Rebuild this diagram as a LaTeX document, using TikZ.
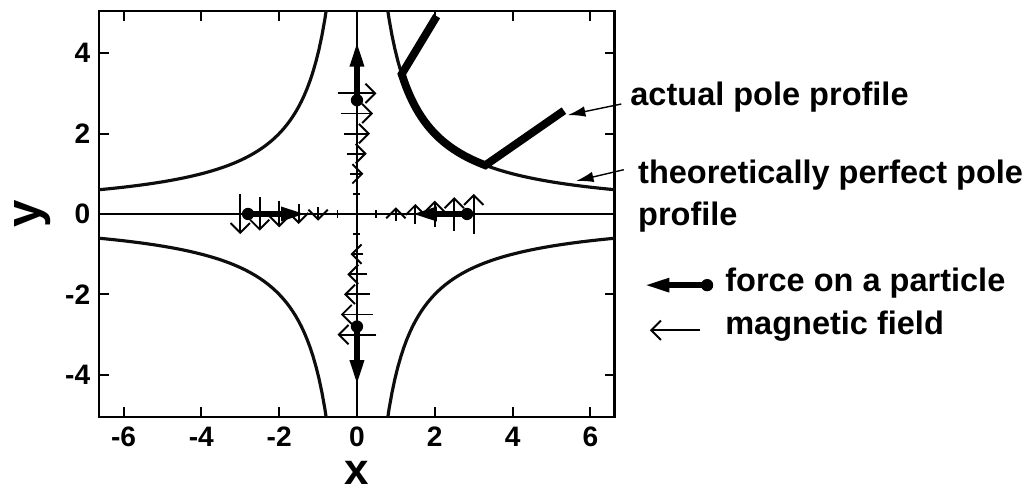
\documentclass[tikz,border=0pt]{standalone}
\usepackage{fontspec}
\setmainfont{Liberation Sans}
\usetikzlibrary{arrows.meta, positioning}

\begin{document}
\begin{tikzpicture}[
        x=0.778cm, y=0.804cm,
        frame/.style={line width=1.6pt},
        tickmark/.style={line width=1.1pt},
        axisline/.style={line width=1.1pt},
        pole/.style={line width=1.8pt, black!95},
        actual/.style={line width=4.5pt},
        field/.style={line width=1.1pt, -{Straight Barb[length=5.5pt, width=11pt]}},
        force/.style={line width=3pt, -{Triangle[length=14pt, width=7.5pt]}},
        ptdot/.style={circle, fill, inner sep=0pt, minimum size=7pt},
        note/.style={line width=0.8pt, -{Latex[length=10pt, width=6pt]}},
        ticklbl/.style={font=\fontsize{16}{16}\selectfont\bfseries, inner sep=0pt},
        lbl/.style={font=\fontsize{18.5}{20}\selectfont\bfseries, inner sep=0pt, anchor=west},
        axlbl/.style={font=\fontsize{25}{25}\selectfont\bfseries, inner sep=0pt},
    ]
        \useasboundingbox (-9.177,-6.940) rectangle (17.404,5.323);

        % Frame, ticks and tick labels
        \draw[frame] (-6.63,-5.05) rectangle (6.63,5.05);
        \foreach \t [count=\i] in {-6,-4,...,6} {
            \draw[tickmark] (\t,-5.05) -- ++(0,0.25);
            \draw[tickmark] (\t,5.05) -- ++(0,-0.25);
            \node[ticklbl] (xt\i) at (\t,-5.55) {\t};
        }
        \foreach \t [count=\i] in {-4,-2,...,4} {
            \draw[tickmark] (-6.63,\t) -- ++(0.26,0);
            \draw[tickmark] (6.63,\t) -- ++(-0.26,0);
            \node[ticklbl, anchor=east] (yt\i) at (-6.85,\t) {\t};
        }
        \node[axlbl] (xlabel) at (0,-6.45) {x};
        \node[axlbl, font=\fontsize{28}{28}\selectfont\bfseries, rotate=90] (ylabel) at (-8.33,0) {y};

        % Axes through the origin
        \draw[axisline] (-6.63,0) -- (6.63,0);
        \draw[axisline] (0,-5.05) -- (0,5.05);

        % Ideal hyperbolic poles
        \begin{scope}
            \clip (-6.63,-5.05) rectangle (6.63,5.05);
            \draw[pole] plot[domain=0.75:6.7, samples=80] (\x,{4/\x});
            \draw[pole] plot[domain=-0.75:-6.7, samples=80] (\x,{4/\x});
            \draw[pole] plot[domain=0.75:6.7, samples=80] (\x,{-4/\x});
            \draw[pole] plot[domain=-0.75:-6.7, samples=80] (\x,{-4/\x});
        \end{scope}

        % Actual pole profile
        \draw[actual] (2.05,4.92) -- plot[domain=1.15:3.3, samples=40] (\x,{4/\x}) -- (5.32,2.57);

        % Magnetic field along the axes
        \draw[field, -] (-0.09,0.5) -- (0.09,0.5);
        \draw[field, -] (-0.09,-0.5) -- (0.09,-0.5);
        \draw[field, -] (0.5,-0.09) -- (0.5,0.09);
        \draw[field, -] (-0.5,-0.09) -- (-0.5,0.09);
        \foreach \v in {1,1.5,...,3} {
            \draw[field] ({-\v/6},\v) -- ({\v/6},\v);
            \draw[field] ({\v/6},-\v) -- ({-\v/6},-\v);
            \draw[field] (\v,{-\v/6}) -- (\v,{\v/6});
            \draw[field] (-\v,{\v/6}) -- (-\v,{-\v/6});
        }

        % Forces on particles
        \node[ptdot] (pup) at (0,2.83) {};
        \node[ptdot] (pdown) at (0,-2.8) {};
        \node[ptdot] (pleft) at (-2.8,0) {};
        \node[ptdot] (pright) at (2.83,0) {};
        \coordinate (fup) at (0,4.28);
        \coordinate (fdown) at (0,-4.25);
        \coordinate (fleft) at (-1.32,0);
        \coordinate (fright) at (1.42,0);
        \draw[force] (pup.center) -- (fup);
        \draw[force] (pdown.center) -- (fdown);
        \draw[force] (pleft.center) -- (fleft);
        \draw[force] (pright.center) -- (fright);

        % Annotations
        \node[lbl] (actualtxt) at (7.02,2.91) {actual pole profile};
        \node[lbl] (perfecttxt) at (7.22,0.97) {theoretically perfect pole};
        \node[lbl, below=0.28 of perfecttxt.south west, anchor=north west] (profiletxt) {profile};
        \coordinate (tipA) at (5.42,2.46);
        \coordinate (tipB) at (5.63,0.82);
        \draw[note] ([xshift=-5pt,yshift=-4pt]actualtxt.west) -- (tipA);
        \draw[note] ([xshift=-8pt,yshift=3pt]perfecttxt.west) -- (tipB);

        % Legend
        \node[ptdot] (legdot) at (9.0,-1.77) {};
        \coordinate (legtip) at (7.40,-1.77);
        \draw[force] (legdot.center) -- (legtip);
        \node[lbl] (forcetxt) at (9.46,-1.72) {force on a particle};
        \coordinate (fieldtail) at (8.82,-2.89);
        \coordinate (fieldtip) at (7.53,-2.89);
        \draw[field] (fieldtail) -- (fieldtip);
        \node[lbl] (fieldtxt) at (9.46,-2.79) {magnetic field};
    \end{tikzpicture}
\end{document}
